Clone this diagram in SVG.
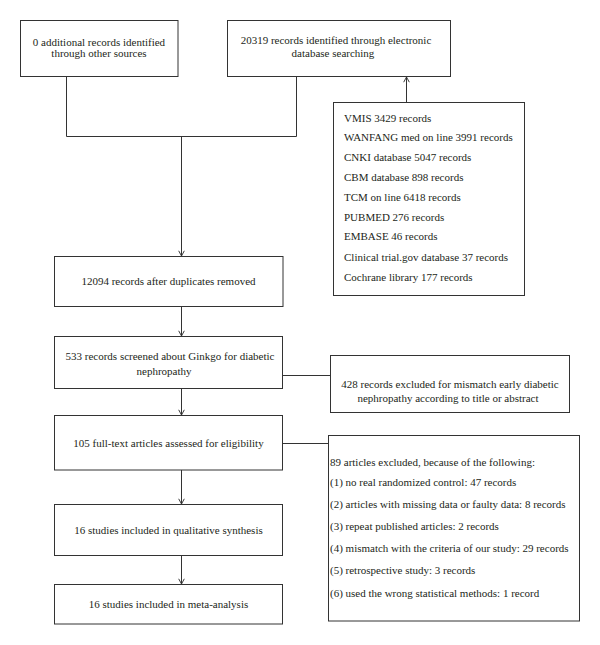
<svg xmlns="http://www.w3.org/2000/svg" width="600" height="645" viewBox="0 0 600 645">
<style>
.box{fill:#fff;stroke:#333;stroke-width:1}
.ln{fill:none;stroke:#333;stroke-width:1}
text{font-family:"Liberation Serif","Times New Roman",serif;font-size:11px;fill:#231f20}
.c{text-anchor:middle}
</style>
<defs>
<marker id="arr" viewBox="0 0 10 10" refX="10" refY="5" markerWidth="8" markerHeight="8" orient="auto" markerUnits="userSpaceOnUse">
<path d="M3.5,1.5 L10,5 L3.5,8.5" fill="none" stroke="#333" stroke-width="1.2"/>
</marker>
</defs>
<rect width="600" height="645" fill="#fff"/>
<g id="connectors">
<path class="ln" d="M66.5,77 V136.5 H296.5 V77"/>
<path class="ln" d="M181.5,136.5 V256" marker-end="url(#arr)"/>
<path class="ln" d="M406.5,102.5 V77" marker-end="url(#arr)"/>
<path class="ln" d="M181.5,307 V336" marker-end="url(#arr)"/>
<path class="ln" d="M283,375.5 H330.5"/>
<path class="ln" d="M181.5,388.5 V415" marker-end="url(#arr)"/>
<path class="ln" d="M283,443.5 H328.5"/>
<path class="ln" d="M181.5,470 V504" marker-end="url(#arr)"/>
<path class="ln" d="M181.5,556 V584" marker-end="url(#arr)"/>
</g>
<g id="n-other">
<rect class="box" x="20.5" y="20.5" width="157.5" height="56"/>
<text class="c" x="99" y="45.5">0 additional records identified</text>
<text class="c" x="99" y="56.5">through other sources</text>
</g>
<g id="n-database">
<rect class="box" x="227.5" y="20.5" width="223" height="56"/>
<text class="c" x="336" y="44">20319 records identified through electronic</text>
<text class="c" x="333" y="57">database searching</text>
</g>
<g id="n-sources">
<rect class="box" x="333.5" y="102.5" width="191" height="193"/>
<text x="344" y="122">VMIS 3429 records</text>
<text x="344" y="140.5">WANFANG med on line 3991 records</text>
<text x="344" y="161">CNKI database 5047 records</text>
<text x="344" y="181">CBM database 898 records</text>
<text x="344" y="201">TCM on line 6418 records</text>
<text x="344" y="221">PUBMED 276 records</text>
<text x="344" y="240">EMBASE 46 records</text>
<text x="344" y="261">Clinical trial.gov database 37 records</text>
<text x="344" y="281">Cochrane library 177 records</text>
</g>
<g id="n-dup">
<rect class="box" x="54.5" y="256.5" width="228.5" height="50"/>
<text class="c" x="168.5" y="284.5">12094 records after duplicates removed</text>
</g>
<g id="n-screened">
<rect class="box" x="54.5" y="336.5" width="228" height="52"/>
<text class="c" x="170" y="360">533 records screened about Ginkgo for diabetic</text>
<text class="c" x="164" y="374.5">nephropathy</text>
</g>
<g id="n-excluded1">
<rect class="box" x="330.5" y="355.5" width="239" height="57"/>
<text class="c" x="450" y="388">428 records excluded for mismatch early diabetic</text>
<text class="c" x="448" y="402">nephropathy according to title or abstract</text>
</g>
<g id="n-fulltext">
<rect class="box" x="54.5" y="415.5" width="228" height="54.5"/>
<text class="c" x="168.5" y="446.5">105 full-text articles assessed for eligibility</text>
</g>
<g id="n-excluded2">
<rect class="box" x="328.5" y="435.5" width="251" height="185.5"/>
<text x="330" y="466">89 articles excluded, because of the following:</text>
<text x="330" y="485.5">(1) no real randomized control: 47 records</text>
<text x="330" y="508">(2) articles with missing data or faulty data: 8 records</text>
<text x="330" y="530">(3) repeat published articles: 2 records</text>
<text x="330" y="552">(4) mismatch with the criteria of our study: 29 records</text>
<text x="330" y="574">(5) retrospective study: 3 records</text>
<text x="330" y="596.5">(6) used the wrong statistical methods: 1 record</text>
</g>
<g id="n-qualitative">
<rect class="box" x="54.5" y="504.5" width="228" height="51"/>
<text class="c" x="168.5" y="534">16 studies included in qualitative synthesis</text>
</g>
<g id="n-meta">
<rect class="box" x="54.5" y="584.5" width="228" height="39.5"/>
<text class="c" x="168.5" y="608">16 studies included in meta-analysis</text>
</g>
</svg>
